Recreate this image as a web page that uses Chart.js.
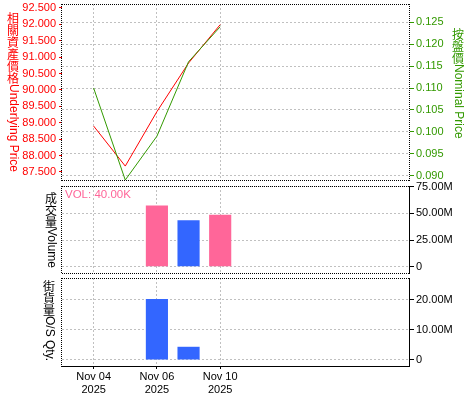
<!DOCTYPE html>
<html>
<head>
<meta charset="utf-8">
<script src="https://cdn.jsdelivr.net/npm/chart.js@4/dist/chart.umd.min.js"></script>
<style>
html, body { margin: 0; padding: 0; background: #fff; }
#wrap { position: relative; width: 475px; height: 400px; }
#wrap canvas { position: absolute; left: 0; top: 0; }
</style>
</head>
<body>
<div id="wrap">
  <canvas id="c-price" width="475" height="400"></canvas>
  <canvas id="c-vol" width="475" height="400"></canvas>
  <canvas id="c-os" width="475" height="400"></canvas>
</div>
<script>
// trading days on the x axis, only a few get a label
const dates = ["Nov 03", "Nov 04", "Nov 05", "Nov 06", "Nov 07", "Nov 10", "Nov 11", "Nov 12", "Nov 13", "Nov 14", "Nov 17", "Nov 18"];
const year = "2025";
const shownDates = ["Nov 04", "Nov 06", "Nov 10"];

const underlying = [null, 88.9, 87.68, 89.34, 90.82, 91.99, null, null, null, null, null, null];
const nominal = [null, 0.110, 0.089, 0.099, 0.116, 0.124, null, null, null, null, null, null];
const volumeUp = [null, null, null, 57.4e6, null, 48.7e6, null, null, null, null, null, null];
const volumeDown = [null, null, null, null, 43.4e6, null, null, null, null, null, null, null];
const osQty = [null, null, null, 20.3e6, 4.4e6, null, null, null, null, null, null, null];

const priceTicks = [87.5, 88, 88.5, 89, 89.5, 90, 90.5, 91, 91.5, 92, 92.5];
const nominalTicks = [0.090, 0.095, 0.100, 0.105, 0.110, 0.115, 0.120, 0.125];
const volumeTicks = [0, 25e6, 50e6, 75e6];
const osTicks = [0, 10e6, 20e6];
const priceRange = [87.256, 92.62];
const nominalRange = [0.089, 0.1292];
const volumeRange = [-5.9e6, 75.6e6];
const osRange = [-2e6, 27.3e6];
const volLabel = "VOL: 40.00K";

const RED = "#ff0000", GREEN = "#339900", PINK = "#ff6699", BLUE = "#3366ff";
const GRID = "#c0c0c0";
const TICK_FONT = { family: "Liberation Sans", size: 11 };

const fmtM = v => v === 0 ? "0" : (v / 1e6).toFixed(2) + "M";

function xAxis(withLabels) {
    return {
        type: "category", offset: false,
        afterBuildTicks: s => { s.ticks = s.ticks.filter(t => shownDates.includes(dates[t.value])); },
        afterFit: s => { s.height = withLabels ? 34 : 0; s.paddingLeft = 0; s.paddingRight = 0; },
        grid: { offset: false, color: GRID, drawTicks: withLabels, tickLength: 3, tickColor: "#000", tickBorderDash: [] },
        border: { display: false, dash: [2, 2] },
        ticks: { display: withLabels, autoSkip: false, maxRotation: 0, padding: 1, color: "#000",
            font: TICK_FONT, callback: v => [dates[v], year] }
    };
}

function rightAxis(list, range, fmt, color) {
    return {
        position: "right", min: range[0], max: range[1],
        afterBuildTicks: s => { s.ticks = list.map(v => ({ value: v })); },
        afterFit: s => { s.width = 65; s.paddingTop = 0; s.paddingBottom = 0; },
        grid: { color: GRID, tickLength: 4, tickColor: color, tickBorderDash: [] },
        border: { display: false, dash: [2, 2] },
        ticks: { color, padding: 2, font: TICK_FONT, callback: fmt }
    };
}

function edge(ctx, x1, y1, x2, y2, kind) {
    ctx.beginPath();
    ctx.setLineDash(kind === "dot" ? [1, 1] : []);
    ctx.moveTo(x1, y1);
    ctx.lineTo(x2, y2);
    ctx.stroke();
}

// vertical title: CJK stacked upright, latin part turned clockwise
function vTitle(ctx, x, y, cjk, latin, color) {
    ctx.save();
    ctx.fillStyle = color;
    ctx.textAlign = "center";
    ctx.textBaseline = "top";
    ctx.font = '12px "Noto Sans CJK TC"';
    for (const ch of cjk) { ctx.fillText(ch, x, y); y += 12; }
    ctx.font = '12px "Liberation Sans"';
    ctx.translate(x, y);
    ctx.rotate(Math.PI / 2);
    ctx.textAlign = "left";
    ctx.textBaseline = "middle";
    ctx.fillText(latin, 0, 0);
    ctx.restore();
}

function decor(sides, extra) {
    return {
        id: "decor",
        afterDraw(chart) {
            const { ctx, chartArea: a } = chart;
            ctx.save();
            ctx.strokeStyle = "#000";
            ctx.lineWidth = 1;
            edge(ctx, a.left, a.top + 0.5, a.right, a.top + 0.5, sides.top);
            edge(ctx, a.left - 0.5, a.top, a.left - 0.5, a.bottom + 1, sides.left);
            edge(ctx, a.right - 0.5, a.top, a.right - 0.5, a.bottom + 1, sides.right);
            edge(ctx, a.left, a.bottom + 0.5, a.right, a.bottom + 0.5, sides.bottom);
            ctx.restore();
            extra(ctx);
        }
    };
}

const common = {
    responsive: false, animation: false, events: [],
    plugins: { legend: { display: false }, tooltip: { enabled: false } }
};

new Chart(document.getElementById("c-price"), {
    type: "line",
    data: { labels: dates, datasets: [
        { data: nominal, yAxisID: "y1", borderColor: GREEN, borderWidth: 1, pointRadius: 0, tension: 0 },
        { data: underlying, yAxisID: "y", borderColor: RED, borderWidth: 1, pointRadius: 0, tension: 0 }
    ] },
    options: { ...common,
        layout: { padding: { top: 4, bottom: 220, left: 0, right: 0 } },
        scales: {
            x: xAxis(false),
            y: {
                position: "left", min: priceRange[0], max: priceRange[1],
                afterBuildTicks: s => { s.ticks = priceTicks.map(v => ({ value: v })); },
                afterFit: s => { s.width = 62; s.paddingTop = 0; s.paddingBottom = 0; },
                grid: { drawOnChartArea: false, tickLength: 3, tickColor: RED },
                border: { display: false },
                ticks: { color: RED, padding: 3, font: TICK_FONT, callback: v => v.toFixed(3) }
            },
            y1: rightAxis(nominalTicks, nominalRange, v => v.toFixed(3), GREEN)
        }
    },
    plugins: [decor({ top: "dot", left: "dot", right: "dot", bottom: "dot" }, ctx => {
        vTitle(ctx, 13, 12, "相關資產價格", "Underlying Price", RED);
        vTitle(ctx, 458, 28, "按盤價", "Nominal Price", GREEN);
    })]
});

new Chart(document.getElementById("c-vol"), {
    type: "bar",
    data: { labels: dates, datasets: [
        { data: volumeUp, backgroundColor: PINK, grouped: false, categoryPercentage: 1, barPercentage: 0.7 },
        { data: volumeDown, backgroundColor: BLUE, grouped: false, categoryPercentage: 1, barPercentage: 0.7 }
    ] },
    options: { ...common,
        layout: { padding: { top: 186, bottom: 127, left: 62, right: 0 } },
        scales: { x: xAxis(false), y: rightAxis(volumeTicks, volumeRange, fmtM, "#000") }
    },
    plugins: [decor({ top: "dot", left: "dot", right: "solid", bottom: "dot" }, ctx => {
        vTitle(ctx, 51, 192, "成交量", "Volume", "#000");
        ctx.save();
        ctx.fillStyle = PINK;
        ctx.font = '11.5px "Liberation Sans"';
        ctx.textBaseline = "middle";
        ctx.fillText(volLabel, 65, 195);
        ctx.restore();
    })]
});

new Chart(document.getElementById("c-os"), {
    type: "bar",
    data: { labels: dates, datasets: [
        { data: osQty, backgroundColor: BLUE, categoryPercentage: 1, barPercentage: 0.7 }
    ] },
    options: { ...common,
        layout: { padding: { top: 278, bottom: 0, left: 62, right: 0 } },
        scales: { x: xAxis(true), y: rightAxis(osTicks, osRange, fmtM, "#000") }
    },
    plugins: [decor({ top: "dot", left: "dot", right: "solid", bottom: "solid" }, ctx => {
        vTitle(ctx, 49, 280, "街貨量", "O/S Qty.", "#000");
    })]
});
</script>
</body>
</html>
